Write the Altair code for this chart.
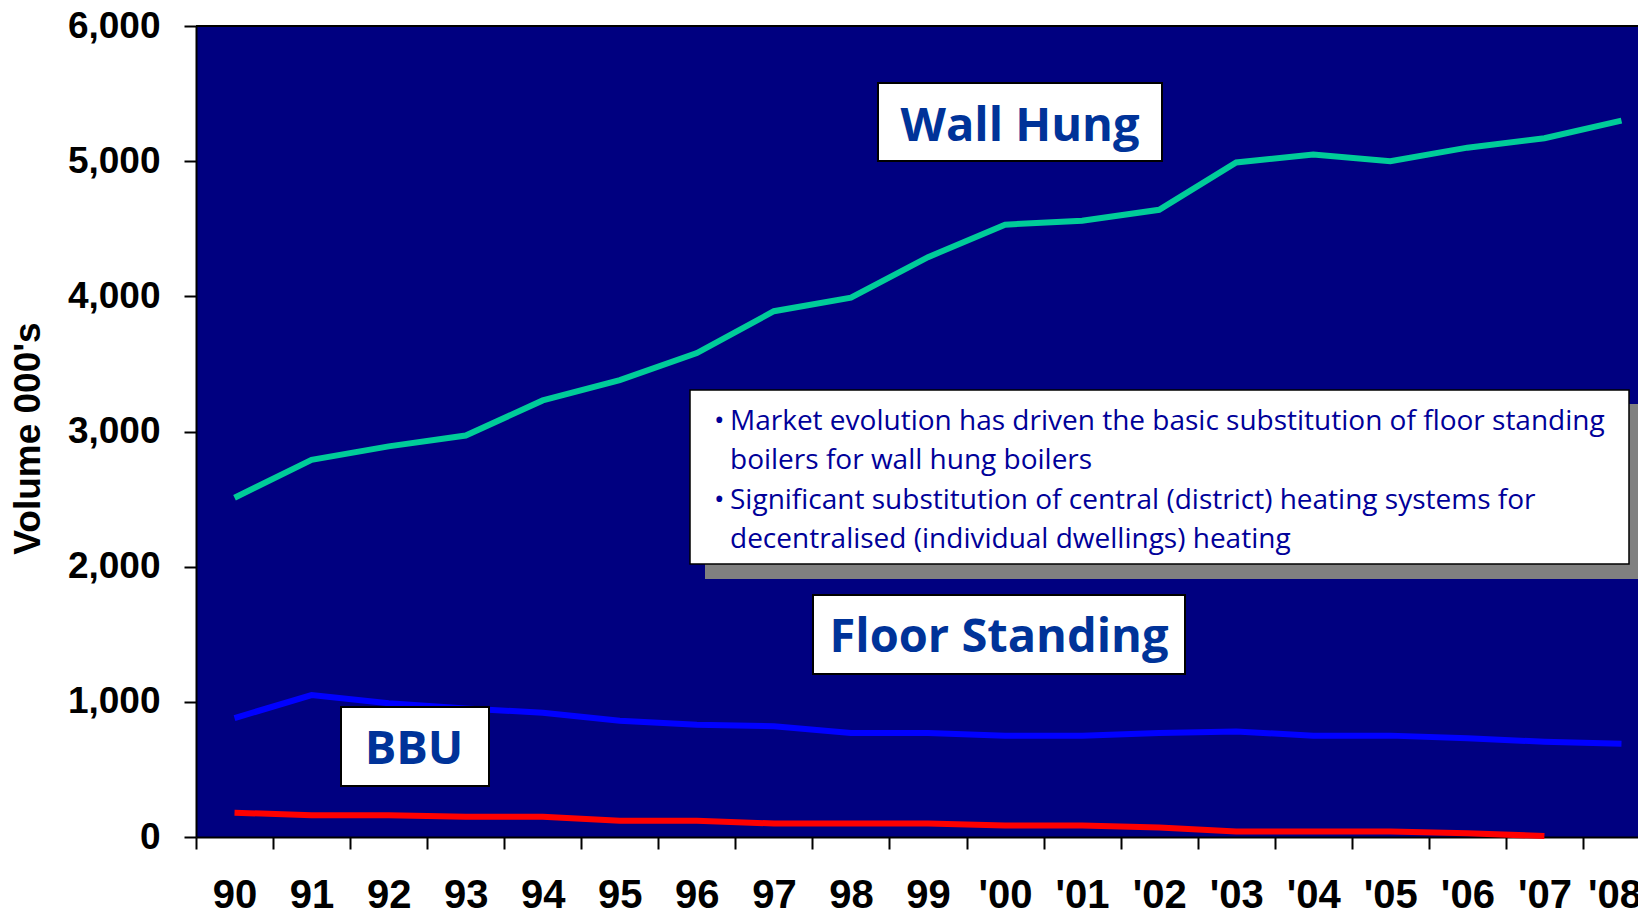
import altair as alt
import pandas as pd

years = ["90", "91", "92", "93", "94", "95", "96", "97", "98", "99",
         "'00", "'01", "'02", "'03", "'04", "'05", "'06", "'07", "'08"]
wall_hung = [2510, 2790, 2890, 2970, 3230, 3380, 3580, 3890, 3990, 4290,
             4530, 4560, 4640, 4990, 5050, 5000, 5100, 5170, 5300]
floor_standing = [880, 1050, 990, 950, 920, 860, 830, 820, 770, 770,
                  750, 750, 770, 780, 750, 750, 730, 705, 690]
bbu = [180, 160, 160, 150, 150, 120, 120, 100, 100, 100,
       85, 85, 70, 40, 40, 40, 28, 7]

series_names = ["Wall Hung", "Floor Standing", "BBU"]
series_colors = ["#00CC99", "#0000FF", "#FF0000"]
y_ticks = [0, 1000, 2000, 3000, 4000, 5000, 6000]

note_1 = "Market evolution has driven the basic substitution of floor standing\nboilers for wall hung boilers"
note_2 = "Significant substitution of central (district) heating systems for\ndecentralised (individual dwellings) heating"

rows = []
for name, vals in zip(series_names, [wall_hung, floor_standing, bbu]):
    for i, v in enumerate(vals):
        rows.append({"year": years[i], "idx": i, "series": name, "value": v})
df = pd.DataFrame(rows)

W, H = 1442, 811
STEP = 1464 / 19

x_axis = alt.Axis(
    labelFont="Liberation Sans Narrow, Arial Narrow, Liberation Sans",
    labelFontSize=40, labelFontWeight="bold", labelColor="black",
    labelAngle=0, labelBaseline="alphabetic", labelPadding=58,
    tickSize=12, tickWidth=2, tickColor="black",
    tickOffset=-STEP / 2,
    labelOffset={"condition": {"test": "datum.value === \"'08\"",
                               "value": STEP / 2 - 7},
                 "value": STEP / 2},
    domainColor="black", domainWidth=2, grid=False,
)
y_axis = alt.Axis(
    values=y_ticks, format=",d",
    labelFont="Liberation Sans", labelFontSize=37, labelFontWeight="bold",
    labelColor="black", labelPadding=24,
    tickSize=12, tickWidth=2, tickColor="black",
    domainColor="black", domainWidth=2, grid=False,
    titleFont="Liberation Sans", titleFontSize=37, titleFontWeight="bold",
    titleColor="black", titleAngle=-90, titleX=-168, titleY=412,
    titleAlign="center", titleBaseline="middle",
)

lines = alt.Chart(df).mark_line(strokeWidth=6).encode(
    x=alt.X("year:O", sort=years,
            scale=alt.Scale(type="point", domain=years, range=[0, 1464], padding=0.5),
            axis=x_axis, title=None),
    y=alt.Y("value:Q", scale=alt.Scale(domain=[0, 6000]), axis=y_axis,
            title="Volume 000's"),
    color=alt.Color("series:N",
                    scale=alt.Scale(domain=series_names, range=series_colors),
                    legend=None),
    order=alt.Order("idx:Q"),
)

one = alt.Data(values=[{"k": 1}])

top_rule = alt.Chart(one).mark_rule(color="black", strokeWidth=2).encode(
    x=alt.value(0), x2=alt.value(W), y=alt.value(0))


def box(x1, x2, y1, y2, fill="white", stroke="black", sw=2):
    return alt.Chart(one).mark_rect(fill=fill, stroke=stroke, strokeWidth=sw).encode(
        x=alt.value(x1), x2=alt.value(x2), y=alt.value(y1), y2=alt.value(y2))


def label(txt, x, y):
    return alt.Chart(one).mark_text(
        font="Open Sans", fontWeight="bold", fontSize=47, color="#003399",
        align="center", baseline="alphabetic").encode(
        x=alt.value(x), y=alt.value(y), text=alt.value(txt))


def note(txt, x, y):
    return alt.Chart(one).mark_text(
        font="Open Sans", fontSize=28, color="#000099", align="left",
        baseline="alphabetic", lineBreak="\n", lineHeight=39).encode(
        x=alt.value(x), y=alt.value(y), text=alt.value(txt))


layers = [
    lines,
    top_rule,
    box(682, 966, 57, 135), label("Wall Hung", 824, 115),
    box(617, 989, 569, 648), label("Floor Standing", 803, 626),
    box(145, 293, 681, 760), label("BBU", 218, 738),
    box(509, 1470, 378, 553, fill="#808080", stroke="#808080", sw=0),
    box(494, 1433, 364, 538, sw=1.5),
    note("\u2022", 518, 404), note(note_1, 534, 404),
    note("\u2022", 518, 483), note(note_2, 534, 483),
]

chart = alt.layer(*layers).properties(
    width=W, height=H,
    autosize=alt.AutoSizeParams(type="none"),
    padding={"left": 188, "top": 18, "right": 0, "bottom": 71},
    background="white",
).configure_view(fill="#000080", strokeOpacity=0)

chart.save("out.html", embed_options={"renderer": "svg", "actions": False})
